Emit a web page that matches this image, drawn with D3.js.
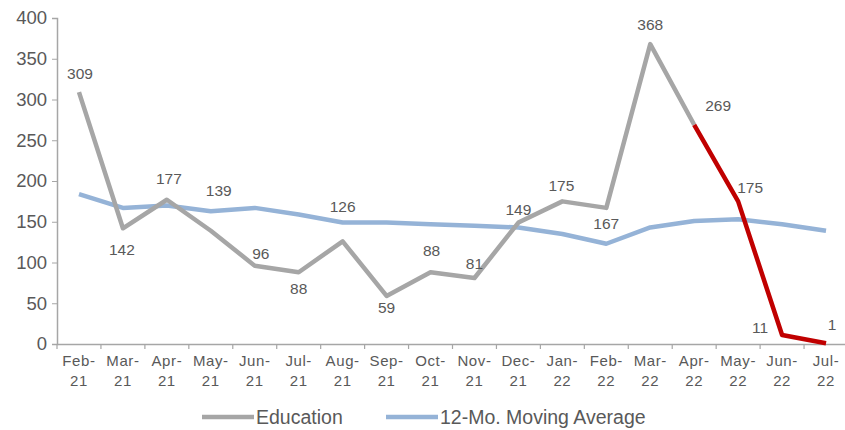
<!DOCTYPE html>
<html>
<head>
<meta charset="utf-8">
<script src="https://cdn.jsdelivr.net/npm/d3@7"></script>
<style>
  body { margin: 0; background: #fff; }
  svg text { font-family: "Liberation Sans", Arial, sans-serif; fill: #595959; }
</style>
</head>
<body>
<div class="chart"></div>
<script>
var months = ["Feb-21","Mar-21","Apr-21","May-21","Jun-21","Jul-21","Aug-21","Sep-21","Oct-21",
              "Nov-21","Dec-21","Jan-22","Feb-22","Mar-22","Apr-22","May-22","Jun-22","Jul-22"];
var education = [309,142,177,139,96,88,126,59,88,81,149,175,167,368,269,175,11,1];
var movingAvg = [184,167,170,163,167,159,149,149,147,145,143,135,123,143,151,153,147,139];
var yTicks = [0,50,100,150,200,250,300,350,400];
var redFrom = 14; // Apr-22 onwards drawn in red

// label centre offsets from each point (px)
var labelDx = [1,-1,2,8,6,0,0,0,1,0,0,-1,0,0,24,12,-22,6];
var labelDy = [-19,21,-21,-40,-12,16,-35,12,-22,-14,-13,-16,16,-20,-19,-14,-8,-19];

var width = 845, height = 430;
var svg = d3.select(".chart").append("svg")
    .attr("width", width)
    .attr("height", height);

var x = d3.scaleBand()
    .domain(months)
    .range([57, 848]);

var y = d3.scaleLinear()
    .domain([0, 400])
    .range([344, 18]);

function cx(i) { return x(months[i]) + x.bandwidth() / 2; }

// y axis
var yAxis = svg.append("g")
    .attr("transform", "translate(57,0)")
    .call(d3.axisLeft(y).tickValues(yTicks).tickSize(5).tickPadding(5));
yAxis.selectAll("text").style("font-size", "18.5px").attr("fill", "#595959");
yAxis.selectAll("line").attr("stroke", "#a6a6a6");
yAxis.select(".domain").attr("stroke", "#a6a6a6").attr("stroke-width", 1.5);

// x axis
var xAxis = svg.append("g")
    .attr("transform", "translate(0,344)")
    .call(d3.axisBottom(x).tickSize(0).tickFormat(""));
xAxis.select(".domain").attr("stroke", "#a6a6a6").attr("stroke-width", 1.5);

// tick marks at band edges
svg.append("g").selectAll("line")
    .data(months)
    .enter().append("line")
    .attr("x1", function(d) { return x(d); })
    .attr("x2", function(d) { return x(d); })
    .attr("y1", 344)
    .attr("y2", 349)
    .attr("stroke", "#a6a6a6")
    .attr("stroke-width", 1.2);

var xl = svg.append("g").selectAll("text")
    .data(months)
    .enter().append("text")
    .attr("text-anchor", "middle")
    .style("font-size", "15px")
    .style("letter-spacing", "0.6px");
xl.append("tspan")
    .attr("x", function(d) { return x(d) + x.bandwidth() / 2; })
    .attr("y", 366)
    .text(function(d) { return d.split("-")[0] + "-"; });
xl.append("tspan")
    .attr("x", function(d) { return x(d) + x.bandwidth() / 2; })
    .attr("y", 386)
    .text(function(d) { return d.split("-")[1]; });

var line = d3.line()
    .x(function(d) { return d.x; })
    .y(function(d) { return y(d.v); });

var maPts = movingAvg.map(function(v, i) { return {x: cx(i), v: v}; });
var edPts = education.map(function(v, i) { return {x: cx(i), v: v}; });

svg.append("path")
    .datum(maPts)
    .attr("fill", "none")
    .attr("stroke", "#95b3d7")
    .attr("stroke-width", 4.5)
    .attr("stroke-linejoin", "round")
    .attr("d", line);

svg.append("path")
    .datum(edPts.slice(0, redFrom + 1))
    .attr("fill", "none")
    .attr("stroke", "#a6a6a6")
    .attr("stroke-width", 4.5)
    .attr("stroke-linejoin", "round")
    .attr("d", line);

svg.append("path")
    .datum(edPts.slice(redFrom))
    .attr("fill", "none")
    .attr("stroke", "#c00000")
    .attr("stroke-width", 4.5)
    .attr("stroke-linejoin", "round")
    .attr("d", line);

// data labels
svg.append("g").selectAll("text")
    .data(education)
    .enter().append("text")
    .style("font-size", "15.5px")
    .attr("text-anchor", "middle")
    .attr("dominant-baseline", "central")
    .attr("x", function(d, i) { return cx(i) + labelDx[i]; })
    .attr("y", function(d, i) { return y(d) + labelDy[i]; })
    .text(function(d) { return d; });

// legend
var legend = [
  {name: "Education", color: "#a6a6a6", x: 202},
  {name: "12-Mo. Moving Average", color: "#95b3d7", x: 386}
];
var lg = svg.append("g").selectAll("g")
    .data(legend)
    .enter().append("g");
lg.append("line")
    .attr("x1", function(d) { return d.x; })
    .attr("x2", function(d) { return d.x + 52; })
    .attr("y1", 417)
    .attr("y2", 417)
    .attr("stroke", function(d) { return d.color; })
    .attr("stroke-width", 4.5);
lg.append("text")
    .attr("x", function(d) { return d.x + 54; })
    .attr("y", 424)
    .style("font-size", "19.5px")
    .text(function(d) { return d.name; });
</script>
</body>
</html>
